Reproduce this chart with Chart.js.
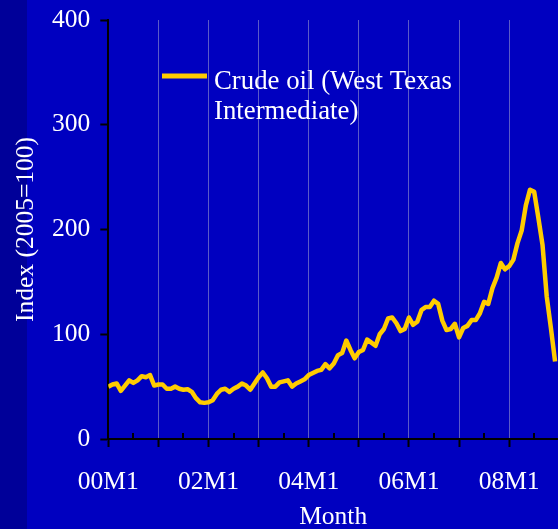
<!DOCTYPE html>
<html>
<head>
<meta charset="utf-8">
<script src="https://cdn.jsdelivr.net/npm/chart.js@4.4.1/dist/chart.umd.min.js"></script>
<style>
  html, body { margin: 0; padding: 0; background: #0000C0; }
  body { width: 558px; height: 529px; overflow: hidden; }
  #wrap {
    position: relative; width: 558px; height: 529px;
    background: linear-gradient(to right, #000099 0, #000099 27px, #0000C0 27px);
  }
  canvas { display: block; }
</style>
</head>
<body>
<div id="wrap"><canvas id="chart" width="558" height="529"></canvas></div>
<script>
// Monthly categories, 2000M1 .. 2008M12
const startYear = 2000;
const endYear = 2008;
const monthLabels = [];
for (let y = startYear; y <= endYear; y++) {
  for (let m = 1; m <= 12; m++) {
    monthLabels.push(String(y % 100).padStart(2, '0') + 'M' + m);
  }
}

// Crude oil (WTI) price index, 2005 = 100
const crudeOil = [
  50, 52, 53, 46, 51, 56, 53.5, 56, 60, 59, 61, 51,          // 2000
  52, 52, 48, 48, 50, 48, 47, 47.5, 45, 39, 35, 34.5,        // 2001
  35, 37, 43, 47, 48, 45, 48, 50, 53, 51, 47, 53,            // 2002
  59, 63.5, 58, 50, 50, 54, 55, 56, 50, 53, 55, 57,          // 2003
  61, 63, 65, 66, 71.5, 67.5, 72, 80, 82, 94, 85, 77,        // 2004
  83, 85, 95, 92, 89, 100, 105, 115, 116, 110.5, 103, 105,   // 2005
  116, 109, 112, 123, 126, 126, 132, 129, 113, 104, 105, 110,// 2006
  97, 106, 108, 113.5, 113.5, 120, 131, 129, 144, 154, 168, 162, // 2007
  165, 171, 187, 199, 223, 238, 236, 211, 185, 136, 106, 74  // 2008
];

const seriesName = ['Crude oil (West Texas', 'Intermediate)'];
const yTicks = [0, 100, 200, 300, 400];
const xTitle = 'Month';
const yTitle = 'Index (2005=100)';

const FONT = "'Liberation Serif', 'Times New Roman', serif";
const WHITE = '#FFFFFF';
const GRID = '#5A5AC8';
const LINE = '#FFCC00';

// Half-year tick marks drawn upward from the time axis
const minorTicks = {
  id: 'minorTicks',
  afterDraw(chart) {
    const xs = chart.scales.x;
    const ctx = chart.ctx;
    const y0 = chart.chartArea.bottom;
    ctx.save();
    ctx.strokeStyle = '#000000';
    ctx.lineWidth = 2;
    for (let i = 6; i < monthLabels.length; i += 12) {
      const px = Math.round(xs.getPixelForValue(i));
      ctx.beginPath();
      ctx.moveTo(px, y0);
      ctx.lineTo(px, y0 - 6);
      ctx.stroke();
    }
    ctx.restore();
  }
};

// Series key placed inside the plot
const inlineLegend = {
  id: 'inlineLegend',
  afterDraw(chart, args, opts) {
    const ctx = chart.ctx;
    const ds = chart.data.datasets[0];
    ctx.save();
    ctx.strokeStyle = ds.borderColor;
    ctx.lineWidth = 5;
    ctx.beginPath();
    ctx.moveTo(opts.x, opts.y);
    ctx.lineTo(opts.x + opts.sample, opts.y);
    ctx.stroke();
    ctx.fillStyle = WHITE;
    ctx.font = opts.size + 'px ' + FONT;
    ctx.textBaseline = 'alphabetic';
    ctx.textAlign = 'left';
    ds.label.forEach((line, i) => {
      ctx.fillText(line, opts.x + opts.sample + opts.gap, opts.baseline + i * opts.lineStep);
    });
    ctx.restore();
  }
};

new Chart(document.getElementById('chart'), {
  type: 'line',
  data: {
    datasets: [{
      label: seriesName,
      data: crudeOil.map((v, i) => ({ x: i, y: v })),
      borderColor: LINE,
      borderWidth: 4.5,
      pointRadius: 0,
      tension: 0,
      borderJoinStyle: 'round',
      fill: false
    }]
  },
  options: {
    responsive: false,
    animation: false,
    devicePixelRatio: 1,
    layout: { padding: { top: 20, right: 0, bottom: 0, left: 0 } },
    plugins: {
      legend: { display: false },
      tooltip: { enabled: false },
      inlineLegend: { x: 162, y: 76, sample: 45, gap: 7, baseline: 89, lineStep: 29.5, size: 26.8 }
    },
    scales: {
      x: {
        type: 'linear',
        min: 0,
        max: 107.7,
        afterBuildTicks(scale) {
          const t = [];
          for (let i = 0; i < monthLabels.length; i += 12) t.push({ value: i });
          scale.ticks = t;
        },
        afterFit(scale) {
          scale.height = 90;
          scale.paddingLeft = 0;
          scale.paddingRight = 0;
        },
        ticks: {
          autoSkip: false,
          maxRotation: 0,
          color: WHITE,
          padding: 19.5,
          font: { family: FONT, size: 25.5 },
          callback(value) {
            const yr = startYear + Math.floor(value / 12);
            return (yr % 2 === 0) ? monthLabels[value] : '';
          }
        },
        grid: {
          drawOnChartArea: true,
          color: (c) => (c.tick && c.tick.value === 0) ? 'rgba(0,0,0,0)' : GRID,
          lineWidth: 1,
          tickLength: 8,
          tickColor: '#000000',
          tickWidth: 2
        },
        border: { display: true, color: '#000000', width: 2 },
        title: {
          display: true,
          text: xTitle,
          color: WHITE,
          font: { family: FONT, size: 25.5, lineHeight: 0.9 },
          padding: { top: 0, bottom: 0 }
        }
      },
      y: {
        min: 0,
        max: 400,
        afterBuildTicks(scale) { scale.ticks = yTicks.map(v => ({ value: v })); },
        afterFit(scale) {
          scale.width = 108.3;
          scale.paddingTop = 0;
          scale.paddingBottom = 0;
        },
        ticks: {
          color: WHITE,
          padding: 10,
          font: { family: FONT, size: 25.5 }
        },
        grid: {
          drawOnChartArea: false,
          tickLength: 8,
          tickColor: '#000000',
          tickWidth: 2
        },
        border: { display: true, color: '#000000', width: 2 },
        title: {
          display: true,
          text: yTitle,
          color: WHITE,
          font: { family: FONT, size: 25.5 },
          padding: { top: 11, bottom: 0 }
        }
      }
    }
  },
  plugins: [minorTicks, inlineLegend]
});
</script>
</body>
</html>
